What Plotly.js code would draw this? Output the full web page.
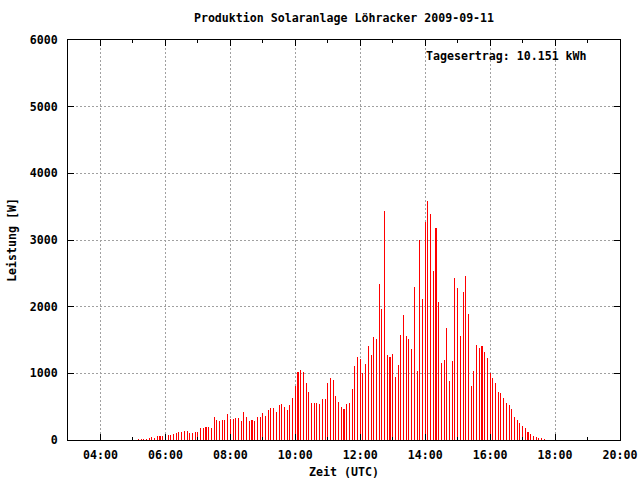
<!DOCTYPE html>
<html>
<head>
<meta charset="utf-8">
<script src="https://cdn.plot.ly/plotly-3.0.1.min.js"></script>
<style>html,body{margin:0;padding:0;background:#fff}#chart{width:640px;height:480px}</style>
</head>
<body>
<div id="chart"></div>
<script>
var dateStr = "2009-09-11";
var chartTitle = "Produktion Solaranlage Löhracker 2009-09-11";
var yieldLabel = "Tagesertrag: 10.151 kWh";
var xTitle = "Zeit (UTC)";
var yTitle = "Leistung [W]";

var times = [
  "05:10","05:15","05:20","05:25","05:30","05:35","05:40","05:45","05:50","05:55",
  "06:00","06:05","06:10","06:15","06:20","06:25","06:30","06:35","06:40","06:45","06:50","06:55",
  "07:00","07:05","07:10","07:15","07:20","07:25","07:30","07:35","07:40","07:45","07:50","07:55",
  "08:00","08:05","08:10","08:15","08:20","08:25","08:30","08:35","08:40","08:45","08:50","08:55",
  "09:00","09:05","09:10","09:15","09:20","09:25","09:30","09:35","09:40","09:45","09:50","09:55",
  "10:00","10:05","10:10","10:15","10:20","10:25","10:30","10:35","10:40","10:45","10:50","10:55",
  "11:00","11:05","11:10","11:15","11:20","11:25","11:30","11:35","11:40","11:45","11:50","11:55",
  "12:00","12:05","12:10","12:15","12:20","12:25","12:30","12:35","12:40","12:45","12:50","12:55",
  "13:00","13:05","13:10","13:15","13:20","13:25","13:30","13:35","13:40","13:45","13:50","13:55",
  "14:00","14:05","14:10","14:15","14:20","14:25","14:30","14:35","14:40","14:45","14:50","14:55",
  "15:00","15:05","15:10","15:15","15:20","15:25","15:30","15:35","15:40","15:45","15:50","15:55",
  "16:00","16:05","16:10","16:15","16:20","16:25","16:30","16:35","16:40","16:45","16:50","16:55",
  "17:00","17:05","17:10","17:15","17:20","17:25","17:30","17:35","17:40"
];

var power = [
  15,15,15,15,30,45,30,60,60,60,
  65,80,80,95,110,125,125,140,140,110,110,125,
  125,185,185,200,200,185,350,305,290,305,305,395,
  320,320,335,335,290,425,350,290,305,290,350,350,
  410,365,455,485,485,425,530,545,500,455,530,635,
  815,1025,1055,1025,860,725,560,560,560,545,620,620,
  860,935,905,665,575,500,470,545,555,765,1110,1245,
  1215,1005,1140,1410,1275,1545,1515,2340,1965,3435,1275,1245,
  1290,945,1125,1575,1875,1560,1515,1365,2295,1035,3005,2115,
  3270,3585,3390,2535,3180,2070,1155,1200,1680,885,1185,2430,
  2280,1560,2220,2460,1890,810,1035,1425,1380,1410,1320,1230,
  1005,930,855,720,705,630,555,525,465,345,300,255,
  210,180,120,90,60,45,30,30,15
];

var yTicks = [0,1000,2000,3000,4000,5000,6000];

var xs = times.map(function(t){ return dateStr + " " + t; });

var fontFam = "DejaVu Sans Mono, Liberation Mono, monospace";

var trace = {
  type: "bar",
  x: xs,
  y: power,
  width: 120000,
  marker: {color: "#ff0000", line: {width: 0}},
  hoverinfo: "x+y"
};

var layout = {
  width: 640, height: 480,
  margin: {l: 68, r: 20, t: 40, b: 40, pad: 0},
  paper_bgcolor: "#ffffff",
  plot_bgcolor: "#ffffff",
  showlegend: false,
  bargap: 0,
  font: {family: fontFam, size: 11.6, color: "#000000", weight: "bold"},
  title: {
    text: chartTitle,
    font: {family: fontFam, size: 11.6, color: "#000000", weight: "bold"},
    xref: "paper", x: 0.5, xanchor: "center",
    yref: "container", y: 1 - 18/480, yanchor: "middle"
  },
  xaxis: {
    type: "date",
    range: [dateStr + " 03:00", dateStr + " 20:00"],
    tick0: dateStr + " 00:00",
    dtick: 7200000,
    tickformat: "%H:%M",
    ticks: "inside", ticklen: 6, tickwidth: 1, tickcolor: "#000000",
    showline: true, linecolor: "#000000", linewidth: 1, mirror: "ticks",
    showgrid: true, gridcolor: "#a0a0a0", gridwidth: 1, griddash: "2px,2px",
    zeroline: false,
    ticklabelstandoff: 4,
    minor: {dtick: 3600000, ticks: "inside", ticklen: 3, tickcolor: "#000000", showgrid: false},
    title: {text: xTitle, standoff: 6, font: {family: fontFam, size: 11.6, color: "#000000", weight: "bold"}},
    fixedrange: true
  },
  yaxis: {
    range: [0, 6000],
    tickvals: yTicks,
    ticktext: yTicks.map(String),
    ticks: "inside", ticklen: 6, tickwidth: 1, tickcolor: "#000000",
    showline: true, linecolor: "#000000", linewidth: 1, mirror: "ticks",
    showgrid: true, gridcolor: "#a0a0a0", gridwidth: 1, griddash: "2px,2px",
    zeroline: false,
    ticklabelstandoff: 7,
    title: {text: yTitle, standoff: 10, font: {family: fontFam, size: 11.6, color: "#000000", weight: "bold"}},
    fixedrange: true
  },
  annotations: [{
    text: yieldLabel,
    xref: "paper", yref: "paper",
    x: (589 - 68) / 552, xanchor: "right",
    y: (440 - 56) / 400, yanchor: "middle",
    showarrow: false,
    font: {family: fontFam, size: 11.6, color: "#000000", weight: "bold"}
  }]
};

Plotly.newPlot("chart", [trace], layout, {staticPlot: true, displayModeBar: false});
</script>
</body>
</html>
